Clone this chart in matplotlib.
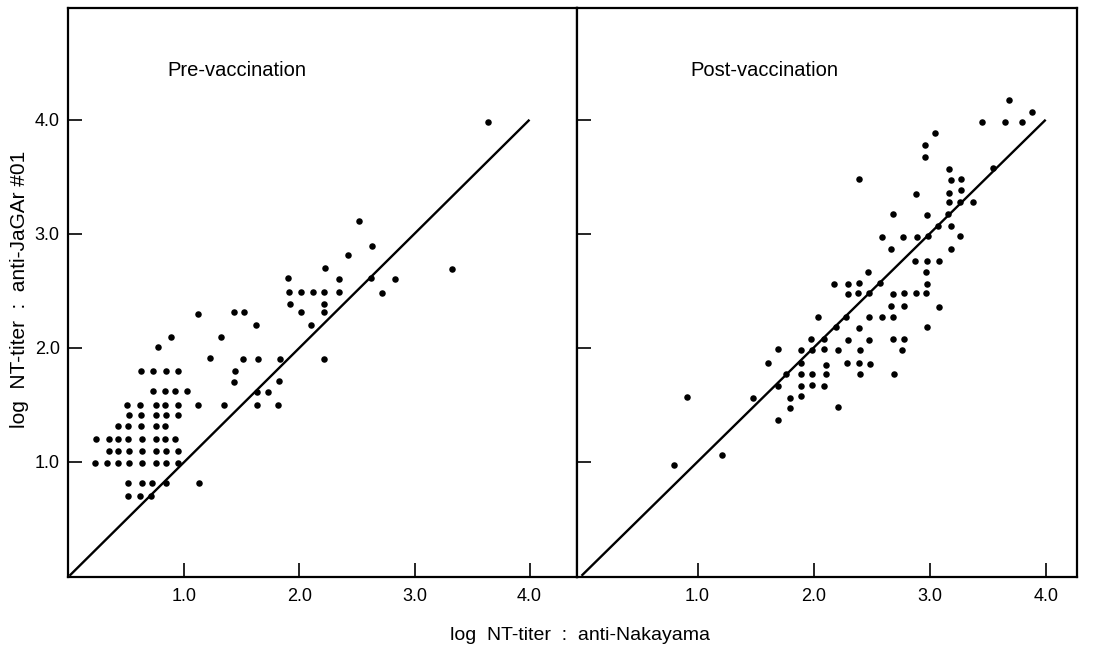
# Títulos neutralizantes: JaGAr #01 vs Nakayama, antes e depois da vacinação
import matplotlib
matplotlib.use("Agg")
import matplotlib.pyplot as plt

plt.rcParams['font.family'] = ['Liberation Sans', 'DejaVu Sans']

# Pre-vaccination (log NT-titer anti-Nakayama, anti-JaGAr #01)
pre_x = [1.12, 0.88, 0.77,
         0.62, 0.73, 0.84, 0.94,
         0.73, 0.83, 0.92, 1.02,
         1.12, 0.50, 0.61, 0.75, 0.83, 0.94,
         0.52, 0.62, 0.75, 0.84, 0.94,
         0.42, 0.51, 0.62, 0.75, 0.83,
         0.23, 0.34, 0.42, 0.51, 0.63, 0.75, 0.83, 0.92,
         0.34, 0.42, 0.52, 0.63, 0.75, 0.84, 0.94,
         0.22, 0.33, 0.42, 0.52, 0.63, 0.75, 0.84, 0.94,
         0.51, 0.63, 0.72, 0.84, 1.13,
         0.51, 0.61, 0.71,
         2.52, 2.63, 2.42, 2.22, 2.34, 2.62, 1.90,
         1.91, 2.01, 2.12, 2.21, 2.34,
         1.92, 2.21, 2.01, 2.21, 2.10, 2.21,
         1.43, 1.52, 1.62, 1.32, 1.22, 1.51, 1.64, 1.83,
         1.44, 1.43, 1.82, 1.63, 1.73, 1.34, 1.63, 1.81,
         3.64, 2.83, 2.72, 3.33]
pre_y = [2.30, 2.09, 2.01,
         1.80, 1.80, 1.80, 1.80,
         1.62, 1.62, 1.62, 1.62,
         1.50, 1.50, 1.50, 1.50, 1.50, 1.50,
         1.41, 1.41, 1.41, 1.41, 1.41,
         1.31, 1.31, 1.31, 1.31, 1.31,
         1.20, 1.20, 1.20, 1.20, 1.20, 1.20, 1.20, 1.20,
         1.09, 1.09, 1.09, 1.09, 1.09, 1.09, 1.09,
         0.99, 0.99, 0.99, 0.99, 0.99, 0.99, 0.99, 0.99,
         0.81, 0.81, 0.81, 0.81, 0.81,
         0.70, 0.70, 0.70,
         3.11, 2.89, 2.81, 2.70, 2.60, 2.61, 2.61,
         2.49, 2.49, 2.49, 2.49, 2.49,
         2.38, 2.38, 2.31, 2.31, 2.20, 1.90,
         2.31, 2.31, 2.20, 2.09, 1.91, 1.90, 1.90, 1.90,
         1.80, 1.70, 1.71, 1.61, 1.61, 1.50, 1.50, 1.50,
         3.98, 2.60, 2.48, 2.69]

# Post-vaccination
post_x = [0.91, 0.80, 1.21, 1.48, 1.69, 1.69,
          1.61, 1.69, 1.76, 1.80, 1.80, 1.89, 1.89, 1.89, 1.89, 1.89,
          1.99, 1.99, 1.99, 1.98, 2.09, 2.11, 2.11, 2.09, 2.09,
          2.04, 2.19, 2.21, 2.21, 2.28, 2.30, 2.29, 2.18, 2.30, 2.30,
          2.38, 2.39, 2.47, 2.39, 2.40, 2.39, 2.40, 2.48, 2.57, 2.48,
          2.59, 2.48, 2.49, 2.68, 2.78, 2.88, 2.67, 2.78, 2.68, 2.68,
          2.78, 2.76, 2.69, 2.87,
          3.68, 3.88, 3.45, 3.65, 3.80, 3.05, 2.96, 2.96, 2.39, 3.55,
          3.17, 3.18, 3.27, 3.17, 3.27, 2.88, 3.17, 3.26, 3.37, 2.68,
          2.98, 3.16, 3.07, 3.18, 2.59, 2.77, 2.89, 2.99, 3.26, 2.67,
          3.18, 2.98, 3.08, 2.97, 2.98, 2.97, 3.08, 2.98]
post_y = [1.57, 0.97, 1.06, 1.56, 1.37, 1.66,
          1.87, 1.99, 1.77, 1.56, 1.47, 1.58, 1.66, 1.77, 1.87, 1.98,
          1.67, 1.77, 1.98, 2.08, 1.66, 1.77, 1.85, 1.99, 2.08,
          2.27, 2.18, 1.98, 1.48, 2.27, 2.07, 1.87, 2.56, 2.56, 2.47,
          2.48, 2.57, 2.66, 2.17, 1.98, 1.87, 1.77, 2.48, 2.57, 2.27,
          2.27, 2.07, 1.86, 2.47, 2.48, 2.48, 2.37, 2.37, 2.27, 2.08,
          2.08, 1.98, 1.77, 2.76,
          4.17, 4.07, 3.98, 3.98, 3.98, 3.88, 3.78, 3.67, 3.48, 3.58,
          3.57, 3.47, 3.48, 3.36, 3.38, 3.35, 3.28, 3.28, 3.28, 3.17,
          3.16, 3.17, 3.07, 3.07, 2.97, 2.97, 2.97, 2.98, 2.98, 2.87,
          2.87, 2.76, 2.76, 2.66, 2.56, 2.48, 2.36, 2.18]

ticks = [1, 2, 3, 4]
tick_labels = ['1.0', '2.0', '3.0', '4.0']

fig = plt.figure(figsize=(10.93, 6.51), dpi=100)
ax1 = fig.add_axes([68 / 1093, 74 / 651, 509 / 1093, 569 / 651])
ax2 = fig.add_axes([577 / 1093, 74 / 651, 500 / 1093, 569 / 651])

for ax, xs, ys, titulo, xlim, tx in [
        (ax1, pre_x, pre_y, 'Pre-vaccination', (-0.013, 4.413), 0.196),
        (ax2, post_x, post_y, 'Post-vaccination', (-0.039, 4.27), 0.226)]:
    ax.plot([0, 4], [0, 4], color='black', lw=1.7, solid_capstyle='butt')
    ax.scatter(xs, ys, s=22, color='black', linewidths=0, zorder=3)
    ax.set_xlim(*xlim)
    ax.set_ylim(-0.011, 4.98)
    ax.set_xticks(ticks)
    ax.set_xticklabels(tick_labels)
    ax.set_yticks(ticks)
    ax.tick_params(direction='in', length=10, width=1.2, labelsize=13, pad=8)
    ax.tick_params(axis='y', pad=6)
    for s in ax.spines.values():
        s.set_linewidth(1.6)
    ax.text(tx, 0.891, titulo, transform=ax.transAxes, fontsize=14.5, va='center')

ax1.set_yticklabels(tick_labels)
ax2.set_yticklabels([])

fig.text(20 / 1093, 1 - 289 / 651, 'log  NT-titer  :  anti-JaGAr #01',
         rotation=90, ha='center', va='center', fontsize=15)
fig.text(580 / 1093, 1 - 635 / 651, 'log  NT-titer  :  anti-Nakayama',
         ha='center', va='center', fontsize=14)

plt.savefig('out.png', dpi=100)
